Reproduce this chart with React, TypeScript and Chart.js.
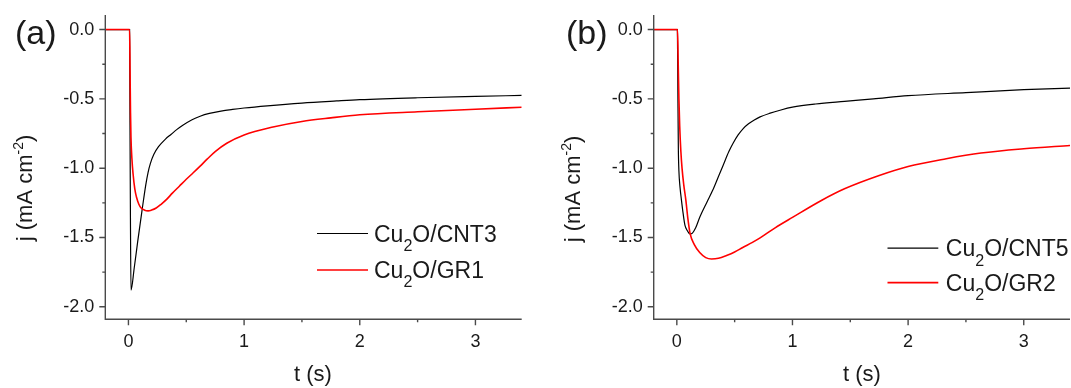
import React, { useEffect, useRef } from 'react';
import { Chart, registerables } from 'chart.js';
Chart.register(...registerables);

// ---------- Data: panel (a) ----------
const tA_CNT3 = [-0.2, -0.1, 0, 0.01, 0.013, 0.017, 0.022, 0.05, 0.08, 0.12, 0.15, 0.17, 0.19, 0.22, 0.26, 0.32, 0.37, 0.42, 0.47, 0.55, 0.62, 0.7, 0.8, 0.9, 1.0, 1.2, 1.5, 1.8, 2.0, 2.5, 3.0, 3.4];
const jA_CNT3 = [0, 0, 0, 0, -0.6, -1.3, -1.88, -1.72, -1.53, -1.29, -1.12, -1.03, -0.965, -0.9, -0.845, -0.79, -0.755, -0.72, -0.69, -0.65, -0.625, -0.605, -0.588, -0.576, -0.566, -0.55, -0.53, -0.515, -0.506, -0.492, -0.482, -0.475];
const tA_GR1 = [-0.2, -0.1, 0, 0.01, 0.014, 0.018, 0.022, 0.03, 0.04, 0.055, 0.07, 0.09, 0.11, 0.14, 0.17, 0.2, 0.24, 0.28, 0.33, 0.38, 0.44, 0.5, 0.56, 0.62, 0.68, 0.75, 0.85, 1.0, 1.25, 1.5, 1.75, 2.0, 2.5, 3.0, 3.4];
const jA_GR1 = [0, 0, 0, 0, -0.3, -0.6, -0.78, -0.93, -1.04, -1.15, -1.21, -1.26, -1.287, -1.303, -1.308, -1.302, -1.287, -1.262, -1.225, -1.18, -1.13, -1.08, -1.033, -0.985, -0.935, -0.88, -0.82, -0.76, -0.703, -0.663, -0.637, -0.615, -0.593, -0.575, -0.56];

// ---------- Data: panel (b) ----------
const tB_CNT5 = [-0.2, -0.1, 0, 0.005, 0.009, 0.013, 0.018, 0.028, 0.04, 0.055, 0.07, 0.09, 0.114, 0.135, 0.163, 0.2, 0.26, 0.31, 0.36, 0.4, 0.45, 0.49, 0.53, 0.574, 0.62, 0.67, 0.72, 0.8, 0.9, 1.0, 1.2, 1.45, 1.7, 2.0, 2.5, 3.0, 3.4];
const jB_CNT5 = [0, 0, 0, 0, -0.45, -0.85, -1.02, -1.14, -1.23, -1.33, -1.41, -1.45, -1.475, -1.468, -1.43, -1.35, -1.245, -1.16, -1.06, -0.98, -0.88, -0.815, -0.76, -0.714, -0.68, -0.652, -0.63, -0.605, -0.58, -0.56, -0.537, -0.518, -0.5, -0.477, -0.455, -0.434, -0.422];
const tB_GR2 = [-0.2, -0.1, 0, 0.006, 0.012, 0.018, 0.025, 0.035, 0.045, 0.06, 0.078, 0.095, 0.114, 0.15, 0.2, 0.25, 0.3, 0.36, 0.43, 0.5, 0.57, 0.65, 0.72, 0.85, 1.0, 1.25, 1.45, 1.75, 2.0, 2.33, 2.63, 3.0, 3.4];
const jB_GR2 = [0, 0, 0, 0, -0.25, -0.5, -0.7, -0.88, -1.0, -1.12, -1.23, -1.36, -1.468, -1.55, -1.61, -1.645, -1.655, -1.65, -1.63, -1.605, -1.572, -1.537, -1.503, -1.43, -1.355, -1.233, -1.149, -1.053, -0.988, -0.932, -0.891, -0.86, -0.836];

// ---------- Axes ----------
const X_MIN = -0.2;
const X_MAX = 3.4;
const Y_MIN = -2.09;
const Y_MAX = 0.105;
const xMajorTicks = [0, 1, 2, 3];
const xMinorTicks = [0.5, 1.5, 2.5];
const yMajorTicks = [0, -0.5, -1, -1.5, -2];
const yMinorTicks = [-0.25, -0.75, -1.25, -1.75];
const xTitle = 't (s)';
const yTitleMain = 'j (mA cm';
const yTitleSup = '-2';
const yTitleEnd = ')';

const FONT = '"Liberation Sans", Arial, Helvetica, sans-serif';
const TEXT = '#1a1a1a';
const AXIS = '#4a4a4a';
const PLOT_TOP = 15;
const PLOT_BOTTOM = 319.3;
const H = 388;

type PanelCfg = {
  left: number; width: number; axisLeft: number; padRight: number;
  letter: string; letterX: number; yTitleX: number; yTitleY: number; xTitleX: number;
  legX1: number; legX2: number; legTextX: number; legY: number[];
  series: { label: string; t: number[]; j: number[]; color: string; width: number; order: number }[];
};

const panels: PanelCfg[] = [
  {
    left: 0, width: 540, axisLeft: 105.3, padRight: 18.3,
    letter: '(a)', letterX: 15, yTitleX: 31.5, yTitleY: 188, xTitleX: 313,
    legX1: 317, legX2: 368, legTextX: 374, legY: [233.5, 270],
    series: [
      { label: 'Cu₂O/CNT3', t: tA_CNT3, j: jA_CNT3, color: '#000000', width: 1.2, order: 1 },
      { label: 'Cu₂O/GR1', t: tA_GR1, j: jA_GR1, color: '#ff0000', width: 1.6, order: 0 },
    ],
  },
  {
    left: 540, width: 531, axisLeft: 113.7, padRight: 1,
    letter: '(b)', letterX: 26, yTitleX: 39.5, yTitleY: 189, xTitleX: 322,
    legX1: 347.5, legX2: 398.3, legTextX: 405.8, legY: [248.2, 282.6],
    series: [
      { label: 'Cu₂O/CNT5', t: tB_CNT5, j: jB_CNT5, color: '#000000', width: 1.2, order: 1 },
      { label: 'Cu₂O/GR2', t: tB_GR2, j: jB_GR2, color: '#ff0000', width: 1.6, order: 0 },
    ],
  },
];

function drawChem(ctx: CanvasRenderingContext2D, text: string, x: number, yMid: number, size: number) {
  const parts = text.split('₂');
  const base = yMid + size * 0.716 / 2;
  ctx.textBaseline = 'alphabetic';
  ctx.textAlign = 'left';
  ctx.font = `${size}px ${FONT}`;
  ctx.fillText(parts[0], x, base);
  x += ctx.measureText(parts[0]).width;
  if (parts.length > 1) {
    const sub = size * 0.7;
    ctx.font = `${sub}px ${FONT}`;
    ctx.fillText('2', x, base + size * 0.4);
    x += ctx.measureText('2').width;
    ctx.font = `${size}px ${FONT}`;
    ctx.fillText(parts[1], x, base);
  }
}

function makeDecor(cfg: PanelCfg) {
  return {
    id: 'decor',
    afterDraw(chart: any) {
      const ctx: CanvasRenderingContext2D = chart.ctx;
      const { left, right, top, bottom } = chart.chartArea;
      const xs = chart.scales.x;
      const ys = chart.scales.y;
      ctx.save();
      // axes
      ctx.strokeStyle = AXIS;
      ctx.lineWidth = 1.4;
      ctx.beginPath();
      ctx.moveTo(left, top);
      ctx.lineTo(left, bottom);
      ctx.lineTo(right, bottom);
      ctx.stroke();
      ctx.beginPath();
      for (const v of xMajorTicks) { const p = xs.getPixelForValue(v); ctx.moveTo(p, bottom); ctx.lineTo(p, bottom + 6); }
      for (const v of xMinorTicks) { const p = xs.getPixelForValue(v); ctx.moveTo(p, bottom); ctx.lineTo(p, bottom + 3); }
      for (const v of yMajorTicks) { const p = ys.getPixelForValue(v); ctx.moveTo(left, p); ctx.lineTo(left - 6, p); }
      for (const v of yMinorTicks) { const p = ys.getPixelForValue(v); ctx.moveTo(left, p); ctx.lineTo(left - 3, p); }
      ctx.stroke();

      ctx.fillStyle = TEXT;
      // panel letter
      ctx.font = `34px ${FONT}`;
      ctx.textAlign = 'left';
      ctx.textBaseline = 'alphabetic';
      ctx.fillText(cfg.letter, cfg.letterX, 44);
      // x title
      ctx.font = `22px ${FONT}`;
      ctx.textAlign = 'center';
      ctx.fillText(xTitle, cfg.xTitleX, 380.5);
      // y title (rotated)
      ctx.save();
      ctx.translate(cfg.yTitleX, cfg.yTitleY);
      ctx.rotate(-Math.PI / 2);
      ctx.textAlign = 'left';
      const mainF = `22px ${FONT}`;
      const supF = `14px ${FONT}`;
      ctx.font = mainF;
      const w1 = ctx.measureText(yTitleMain).width;
      const w3 = ctx.measureText(yTitleEnd).width;
      ctx.font = supF;
      const w2 = ctx.measureText(yTitleSup).width;
      let x0 = -(w1 + w2 + w3) / 2;
      ctx.font = mainF;
      ctx.fillText(yTitleMain, x0, 0);
      x0 += w1;
      ctx.font = supF;
      ctx.fillText(yTitleSup, x0, -9);
      x0 += w2;
      ctx.font = mainF;
      ctx.fillText(yTitleEnd, x0, 0);
      ctx.restore();
      // legend
      chart.data.datasets.forEach((ds: any, i: number) => {
        const y = cfg.legY[i];
        ctx.strokeStyle = ds.borderColor;
        ctx.lineWidth = ds.borderWidth;
        ctx.beginPath();
        ctx.moveTo(cfg.legX1, y);
        ctx.lineTo(cfg.legX2, y);
        ctx.stroke();
        ctx.fillStyle = TEXT;
        drawChem(ctx, ds.label, cfg.legTextX, y, 23);
      });
      ctx.restore();
    },
  };
}

function Panel({ cfg }: { cfg: PanelCfg }) {
  const ref = useRef<HTMLCanvasElement>(null);
  useEffect(() => {
    if (!ref.current) return;
    const chart = new Chart(ref.current, {
      type: 'line',
      data: {
        datasets: cfg.series.map((s) => ({
          label: s.label,
          data: s.t.map((x, i) => ({ x, y: s.j[i] })),
          borderColor: s.color,
          backgroundColor: s.color,
          borderWidth: s.width,
          pointRadius: 0,
          fill: false,
          cubicInterpolationMode: 'monotone',
          order: s.order,
        })),
      },
      options: {
        animation: false,
        responsive: false,
        devicePixelRatio: 1,
        layout: { padding: { top: PLOT_TOP, right: cfg.padRight, left: 0, bottom: 0 } },
        plugins: { legend: { display: false }, tooltip: { enabled: false }, title: { display: false } },
        scales: {
          x: {
            type: 'linear',
            min: X_MIN,
            max: X_MAX,
            grid: { display: false, drawTicks: false, tickLength: 0 },
            border: { display: false },
            afterBuildTicks: (s: any) => { s.ticks = xMajorTicks.map((v) => ({ value: v })); },
            afterFit: (s: any) => {
              s.height = H - PLOT_BOTTOM;
              s.paddingLeft = 0; s.paddingRight = 0; s.paddingTop = 0; s.paddingBottom = 0;
            },
            ticks: {
              padding: 12,
              autoSkip: false,
              maxRotation: 0,
              color: TEXT,
              font: { family: FONT, size: 18 },
              callback: (v: any) => String(v),
            },
          },
          y: {
            type: 'linear',
            min: Y_MIN,
            max: Y_MAX,
            grid: { display: false, drawTicks: false, tickLength: 0 },
            border: { display: false },
            afterBuildTicks: (s: any) => { s.ticks = yMajorTicks.map((v) => ({ value: v })); },
            afterFit: (s: any) => {
              s.width = cfg.axisLeft;
              s.paddingLeft = 0; s.paddingRight = 0; s.paddingTop = 0; s.paddingBottom = 0;
            },
            ticks: {
              padding: 11,
              autoSkip: false,
              color: TEXT,
              font: { family: FONT, size: 18 },
              callback: (v: any) => Number(v).toFixed(1),
            },
          },
        },
      },
      plugins: [makeDecor(cfg)],
    } as any);
    return () => chart.destroy();
  }, [cfg]);
  return (
    <div style={{ position: 'absolute', left: cfg.left, top: 0, width: cfg.width, height: H }}>
      <canvas ref={ref} width={cfg.width} height={H} style={{ display: 'block', width: cfg.width, height: H }} />
    </div>
  );
}

export default function App() {
  return (
    <div style={{ position: 'absolute', left: 0, top: 0, width: 1071, height: H, background: '#ffffff', overflow: 'hidden' }}>
      {panels.map((p) => <Panel key={p.letter} cfg={p} />)}
    </div>
  );
}
